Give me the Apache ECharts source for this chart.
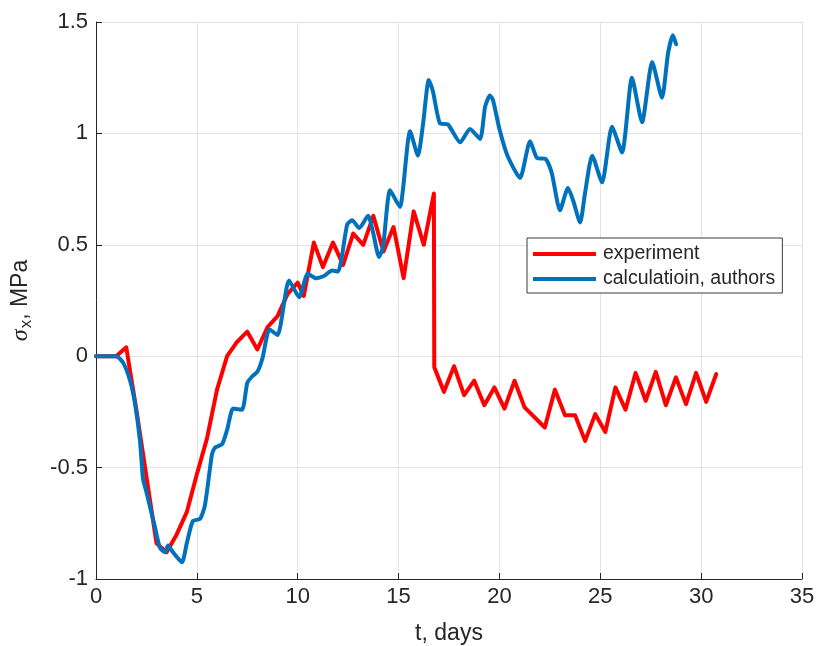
<!DOCTYPE html>
<html>
<head>
<meta charset="utf-8">
<script src="https://cdn.jsdelivr.net/npm/echarts@6/dist/echarts.min.js"></script>
<style>
html,body{margin:0;padding:0;background:#fff;}
#chart{width:816px;height:646px;}
</style>
</head>
<body>
<div id="chart"></div>
<script>
// Experiment (red)
const expT = [0, 0.5, 1.0, 1.5, 2.0, 2.5, 3.0, 3.5, 4.0, 4.5, 5.0, 5.5, 6.0, 6.5, 7.0, 7.5, 8.0, 8.5, 9.0, 9.5, 10.0, 10.3, 10.8, 11.25, 11.75, 12.25, 12.75, 13.25, 13.75, 14.25, 14.75, 15.25, 15.75, 16.25, 16.75, 16.77, 17.25, 17.75, 18.25, 18.75, 19.25, 19.75, 20.25, 20.75, 21.25, 22.25, 22.75, 23.25, 23.75, 24.25, 24.75, 25.25, 25.75, 26.25, 26.75, 27.25, 27.75, 28.25, 28.75, 29.25, 29.75, 30.25, 30.75];
const expV = [0, 0, 0, 0.04, -0.24, -0.54, -0.84, -0.88, -0.80, -0.70, -0.53, -0.37, -0.15, 0.0, 0.065, 0.11, 0.03, 0.13, 0.18, 0.28, 0.33, 0.27, 0.51, 0.40, 0.51, 0.41, 0.55, 0.50, 0.63, 0.47, 0.58, 0.35, 0.65, 0.50, 0.73, -0.05, -0.16, -0.045, -0.175, -0.11, -0.22, -0.14, -0.235, -0.11, -0.23, -0.32, -0.15, -0.265, -0.265, -0.38, -0.26, -0.34, -0.14, -0.24, -0.075, -0.20, -0.07, -0.22, -0.095, -0.215, -0.075, -0.205, -0.08];

// Calculation, authors (blue)
const calcT = [0, 0.5, 1.0, 1.35, 1.69, 1.93, 2.18, 2.33, 2.5, 2.93, 3.17, 3.42, 3.57, 3.82, 4.26, 4.5, 4.8, 5.16, 5.4, 5.75, 5.9, 6.25, 6.5, 6.8, 7.24, 7.5, 7.75, 8.0, 8.25, 8.6, 9.0, 9.57, 10.07, 10.5, 10.9, 11.3, 11.7, 12.0, 12.45, 12.7, 13.05, 13.49, 13.75, 14.03, 14.23, 14.58, 15.07, 15.22, 15.57, 15.96, 16.21, 16.5, 16.7, 17.05, 17.45, 18.05, 18.54, 19.04, 19.29, 19.53, 19.68, 20.0, 20.4, 21.02, 21.52, 21.86, 22.3, 22.6, 23.0, 23.4, 23.65, 24.0, 24.24, 24.6, 25.09, 25.58, 26.08, 26.57, 27.07, 27.57, 28.06, 28.36, 28.6, 28.76];
const calcV = [0, 0, 0, -0.03, -0.11, -0.21, -0.38, -0.55, -0.61, -0.77, -0.86, -0.88, -0.85, -0.88, -0.925, -0.84, -0.74, -0.73, -0.67, -0.44, -0.41, -0.395, -0.33, -0.235, -0.24, -0.12, -0.09, -0.07, -0.01, 0.12, 0.095, 0.34, 0.265, 0.37, 0.35, 0.36, 0.385, 0.38, 0.59, 0.61, 0.575, 0.63, 0.55, 0.445, 0.49, 0.745, 0.67, 0.75, 1.01, 0.90, 1.04, 1.24, 1.19, 1.045, 1.04, 0.96, 1.02, 0.975, 1.12, 1.17, 1.15, 1.02, 0.90, 0.80, 0.965, 0.89, 0.885, 0.82, 0.655, 0.755, 0.70, 0.60, 0.73, 0.90, 0.78, 1.03, 0.915, 1.25, 1.05, 1.32, 1.16, 1.36, 1.44, 1.40];

const xTicks = [0, 5, 10, 15, 20, 25, 30, 35];
const yTicks = [-1, -0.5, 0, 0.5, 1, 1.5];
const seriesNames = ['experiment', 'calculatioin, authors'];

const zip = (a, b) => a.map((v, i) => [v, b[i]]);
const txt = '#262626';
const font = 'Liberation Sans, Arial, sans-serif';

const chart = echarts.init(document.getElementById('chart'), null, {renderer: 'canvas'});
chart.setOption({
  animation: false,
  backgroundColor: '#fff',
  grid: {left: 96, right: 14, top: 22, bottom: 67, containLabel: false, outerBoundsMode: 'none'},
  xAxis: {
    type: 'value', min: xTicks[0], max: xTicks[xTicks.length - 1], interval: 5,
    name: 't, days', nameLocation: 'middle', nameGap: 43,
    nameTextStyle: {color: txt, fontSize: 23, fontFamily: font},
    axisLine: {show: true, onZero: false, lineStyle: {color: txt, width: 1}},
    axisTick: {show: true, inside: true, length: 6, lineStyle: {color: txt}},
    axisLabel: {color: txt, fontSize: 22, fontFamily: font, margin: 7},
    splitLine: {show: true, lineStyle: {color: '#e3e3e3', width: 1}}
  },
  yAxis: {
    type: 'value', min: yTicks[0], max: yTicks[yTicks.length - 1], interval: 0.5,
    name: '{s|σ}{sub|x}{n|, MPa}', nameLocation: 'middle', nameGap: 61, nameRotate: 90,
    nameTextStyle: {
      color: txt, fontFamily: font,
      rich: {
        s: {fontSize: 24, fontStyle: 'italic', fontFamily: 'Liberation Serif, serif', color: txt},
        sub: {fontSize: 17, fontFamily: font, color: txt, padding: [11, 0, 0, 1]},
        n: {fontSize: 23, fontFamily: font, color: txt}
      }
    },
    axisLine: {show: true, onZero: false, lineStyle: {color: txt, width: 1}},
    axisTick: {show: true, inside: true, length: 6, lineStyle: {color: txt}},
    axisLabel: {color: txt, fontSize: 22, fontFamily: font, margin: 8,
      formatter: v => String(v)},
    splitLine: {show: true, lineStyle: {color: '#e3e3e3', width: 1}}
  },
  legend: {
    orient: 'vertical', left: 527, top: 238,
    data: seriesNames,
    icon: 'rect', itemWidth: 63, itemHeight: 4, itemGap: 5,
    padding: [6, 7, 4, 6],
    backgroundColor: '#fff', borderColor: '#3a3a3a', borderWidth: 1, borderRadius: 0,
    textStyle: {color: txt, fontSize: 19.5, fontFamily: font, padding: [0, 0, 0, 2]}
  },
  series: [
    {
      name: seriesNames[0], type: 'line', data: zip(expT, expV),
      showSymbol: false, symbol: 'none', color: '#ff0000',
      lineStyle: {width: 4, color: '#ff0000', cap: 'round', join: 'round'}
    },
    {
      name: seriesNames[1], type: 'line', data: zip(calcT, calcV),
      showSymbol: false, symbol: 'none', color: '#0072bd', smooth: 0.2,
      lineStyle: {width: 4, color: '#0072bd', cap: 'round', join: 'round'}
    }
  ]
});
</script>
</body>
</html>
